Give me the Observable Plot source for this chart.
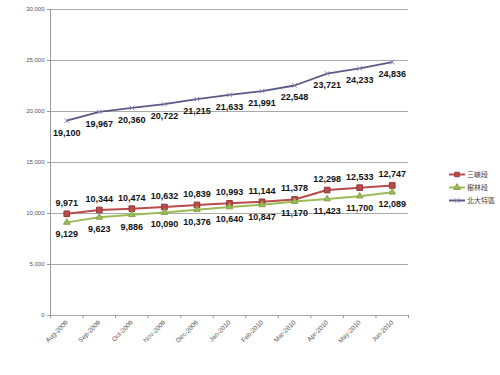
<!DOCTYPE html>
<html><head><meta charset="utf-8">
<script src="https://cdn.jsdelivr.net/npm/d3@7"></script>
<script src="https://cdn.jsdelivr.net/npm/@observablehq/plot@0.6"></script>
<style>
body{margin:0;background:#fff;}
#wrap{position:relative;width:500px;height:375px;}
.legend{position:absolute;left:449px;top:168px;font:7px "Noto Sans CJK TC",sans-serif;color:#444;line-height:13px;}
.legend div{display:flex;align-items:center;height:13px;}
.legend svg{margin-right:2px;}
</style></head><body><div id="wrap"></div>
<script>
const months = ["Aug-2009","Sep-2009","Oct-2009","Nov-2009","Dec-2009","Jan-2010","Feb-2010","Mar-2010","Apr-2010","May-2010","Jun-2010"];
const seriesNames = ["三峽段","樹林段","北大特區"];
const sanxia = [9971,10344,10474,10632,10839,10993,11144,11378,12298,12533,12747];
const shulin = [9129,9623,9886,10090,10376,10640,10847,11170,11423,11700,12089];
const beida = [19100,19967,20360,20722,21215,21633,21991,22548,23721,24233,24836];
const yTicks = [0,5000,10000,15000,20000,25000,30000];
const colors = ["#bb4a4a","#9bbb59","#5a5a86"];
const symbols = ["square","triangle","times"];
const labelDy = [-11,12,12];

const allValues = [sanxia, shulin, beida];
const rows = [];
allValues.forEach((vals, s) => vals.forEach((v, i) => rows.push({i, month: months[i], series: seriesNames[s], s, value: v})));
const idx = months.map((m, i) => i);
const edges = months.map((m, i) => i - 0.5).concat([months.length - 0.5]);
const fmt = d3.format(",");

const marks = [
  Plot.gridY(yTicks, {stroke: "#aaa", strokeOpacity: 1}),
  Plot.ruleX([-0.5], {stroke: "#999"}),
  Plot.axisY(yTicks, {tickFormat: fmt, tickSize: 3, tickPadding: 3, fontSize: 6, fill: "#555", stroke: "#999", label: null}),
  Plot.axisX(edges, {tickSize: 3, tickFormat: () => "", stroke: "#999", label: null}),
  Plot.axisX(idx, {tickSize: 0, tickPadding: 6, tickRotate: -45, tickFormat: i => months[i], fontSize: 6.5, fill: "#555", label: null})
];
const dotR = [3.2, 2.4, 2.2];
const dotStroke = ["#94393a", "#86a64a", "#8a8ab4"];
seriesNames.forEach((name, s) => {
  const data = rows.filter(r => r.s === s);
  marks.push(Plot.lineY(data, {x: "i", y: "value", stroke: colors[s], strokeWidth: s === 2 ? 1.8 : 2}));
  marks.push(Plot.dot(data, {x: "i", y: "value", symbol: symbols[s], r: dotR[s], fill: s === 2 ? "none" : colors[s], stroke: dotStroke[s], strokeWidth: 1}));
  marks.push(Plot.text(data, {x: "i", y: "value", text: d => fmt(d.value), dy: labelDy[s], fontSize: 9, fontWeight: "bold", fill: "#111", fontFamily: "Liberation Sans, Arial, sans-serif"}));
});

const chart = Plot.plot({
  width: 500, height: 375,
  marginLeft: 50, marginRight: 92, marginTop: 9, marginBottom: 60,
  x: {type: "linear", domain: [-0.5, months.length - 0.5], axis: null},
  y: {domain: [0, 30000], axis: null},
  style: {fontFamily: "Liberation Sans, Arial, sans-serif", background: "#fff"},
  marks
});
const wrap = document.getElementById("wrap");
wrap.appendChild(chart);

const legend = document.createElement("div");
legend.className = "legend";
seriesNames.forEach((name, s) => {
  const row = document.createElement("div");
  const svg = d3.create("svg").attr("width", 16).attr("height", 9);
  svg.append("line").attr("x1", 0).attr("x2", 16).attr("y1", 4.5).attr("y2", 4.5).attr("stroke", colors[s]).attr("stroke-width", 2);
  const sym = [d3.symbolSquare, d3.symbolTriangle, d3.symbolTimes][s];
  svg.append("path").attr("d", d3.symbol(sym, s === 2 ? 16 : 20)()).attr("transform", "translate(8,4.5)")
     .attr("fill", s === 2 ? "none" : colors[s]).attr("stroke", dotStroke[s]);
  row.appendChild(svg.node());
  const t = document.createElement("span");
  t.textContent = name;
  row.appendChild(t);
  legend.appendChild(row);
});
wrap.appendChild(legend);
</script></body></html>
